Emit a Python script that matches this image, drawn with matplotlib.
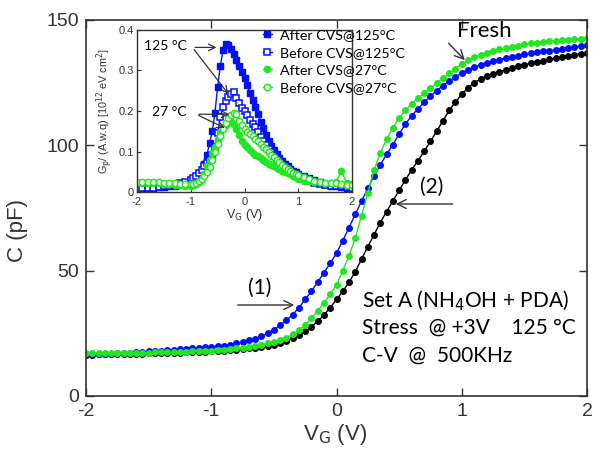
import numpy as np
import matplotlib
matplotlib.use("Agg")
import matplotlib.pyplot as plt

plt.rcParams['axes.unicode_minus'] = False
plt.rcParams['font.family'] = ['Liberation Sans', 'DejaVu Sans']

# ---- main C-V sweep (V) ----
vg = np.linspace(-2.0, 2.0, 81)

c_after_125 = [16.5, 16.6, 16.7, 16.8, 16.9, 17.0, 17.1, 17.3, 17.4, 17.6,
               17.8, 17.9, 18.0, 18.2, 18.4, 18.6, 18.8, 19.0, 19.2, 19.4,
               19.6, 19.8, 20.1, 20.5, 21.0, 21.6, 22.2, 22.9, 23.8, 25.0,
               26.5, 28.2, 30.2, 32.5, 35.2, 38.5, 41.8, 45.5, 49.2, 53.0,
               57.0, 62.0, 67.2, 72.5, 77.8, 82.8, 87.8, 92.2, 96.4, 100.3,
               104.5, 108.5, 111.8, 114.6, 117.2, 119.6, 121.8, 123.8, 125.6, 127.3,
               128.9, 130.2, 131.2, 132.1, 132.9, 133.6, 134.2, 134.8, 135.3, 135.8,
               136.3, 136.7, 137.1, 137.5, 137.8, 138.2, 138.5, 138.9, 139.2, 139.6,
               140.0]

c_fresh_green = [17.0, 17.0, 17.0, 17.1, 17.1, 17.1, 17.2, 17.2, 17.2, 17.3,
                 17.3, 17.4, 17.4, 17.5, 17.5, 17.6, 17.7, 17.8, 17.9, 18.0,
                 18.1, 18.3, 18.5, 18.7, 19.0, 19.3, 19.7, 20.1, 20.5, 21.0,
                 21.6, 22.3, 23.3, 24.6, 26.3, 28.3, 31.0, 34.0, 37.2, 40.6,
                 44.3, 50.0, 56.0, 63.0, 72.0, 81.0, 90.0, 97.0, 102.5, 107.0,
                 111.0, 114.0, 116.6, 118.8, 120.8, 122.8, 124.8, 126.8, 128.7, 130.6,
                 132.4, 134.0, 135.2, 136.2, 137.0, 137.7, 138.3, 138.8, 139.3, 139.8,
                 140.3, 140.7, 141.0, 141.3, 141.6, 141.8, 142.0, 142.2, 142.4, 142.6,
                 142.7]

c_black = [16.5, 16.5, 16.6, 16.6, 16.7, 16.7, 16.8, 16.8, 16.9, 16.9,
           17.0, 17.0, 17.1, 17.1, 17.2, 17.3, 17.4, 17.5, 17.6, 17.7,
           17.8, 17.9, 18.1, 18.3, 18.5, 18.7, 19.0, 19.3, 19.6, 20.0,
           20.5, 21.2, 22.0, 23.0, 24.3, 25.8, 27.6, 29.8, 32.3, 35.3,
           38.5, 41.8, 45.4, 49.6, 54.6, 59.6, 64.4, 69.2, 73.6, 77.8,
           82.0, 86.2, 90.2, 93.8, 97.6, 101.6, 105.6, 109.8, 114.0, 117.3,
           120.3, 123.0, 125.0, 126.5, 127.7, 128.6, 129.4, 130.1, 130.8, 131.5,
           132.1, 132.7, 133.3, 133.8, 134.3, 134.8, 135.3, 135.7, 136.1, 136.5,
           136.8]

# ---- inset Gp sweep ----
vg_in = [-2.0, -1.9, -1.8, -1.7, -1.6, -1.5, -1.4, -1.3, -1.2, -1.1, -1.0,
         -0.95, -0.9, -0.85, -0.8, -0.75, -0.7, -0.65, -0.6, -0.55, -0.5,
         -0.45, -0.4, -0.35, -0.3, -0.25, -0.2, -0.15, -0.1, -0.05, 0.0,
         0.05, 0.1, 0.15, 0.2, 0.25, 0.3, 0.35, 0.4, 0.45, 0.5,
         0.55, 0.6, 0.65, 0.7, 0.75, 0.8, 0.85, 0.9, 0.95, 1.0,
         1.1, 1.2, 1.3, 1.4, 1.5, 1.6, 1.7, 1.8, 1.9, 2.0]

gp_after_125 = [0.008, 0.009, 0.010, 0.011, 0.012, 0.013, 0.014, 0.016, 0.019, 0.022, 0.027,
                0.031, 0.037, 0.045, 0.055, 0.070, 0.092, 0.120, 0.150, 0.195, 0.260,
                0.310, 0.350, 0.366, 0.364, 0.354, 0.340, 0.326, 0.310, 0.296, 0.282,
                0.264, 0.245, 0.226, 0.210, 0.192, 0.174, 0.157, 0.140, 0.126, 0.114,
                0.104, 0.094, 0.084, 0.076, 0.069, 0.063, 0.058, 0.053, 0.049, 0.045,
                0.039, 0.034, 0.029, 0.024, 0.020, 0.016, 0.014, 0.012, 0.011, 0.010]

gp_before_125 = [0.008, 0.009, 0.010, 0.011, 0.013, 0.014, 0.016, 0.018, 0.021, 0.025, 0.030,
                 0.034, 0.040, 0.046, 0.054, 0.063, 0.072, 0.080, 0.092, 0.110, 0.145,
                 0.185, 0.210, 0.225, 0.234, 0.242, 0.246, 0.232, 0.220, 0.208, 0.199,
                 0.190, 0.178, 0.168, 0.160, 0.149, 0.137, 0.127, 0.116, 0.106, 0.098,
                 0.090, 0.082, 0.075, 0.068, 0.061, 0.056, 0.051, 0.046, 0.041, 0.037,
                 0.031, 0.026, 0.023, 0.020, 0.018, 0.016, 0.015, 0.014, 0.012, 0.011]

gp_after_27 = [0.022, 0.022, 0.022, 0.022, 0.021, 0.020, 0.019, 0.018, 0.017, 0.016, 0.016,
               0.017, 0.020, 0.025, 0.033, 0.045, 0.065, 0.080, 0.096, 0.110, 0.130,
               0.148, 0.160, 0.166, 0.170, 0.172, 0.168, 0.155, 0.140, 0.125, 0.116,
               0.110, 0.103, 0.097, 0.092, 0.088, 0.083, 0.078, 0.074, 0.070, 0.067,
               0.064, 0.060, 0.057, 0.053, 0.050, 0.047, 0.044, 0.040, 0.036, 0.032,
               0.028, 0.026, 0.025, 0.024, 0.023, 0.023, 0.024, 0.052, 0.022, 0.020]

gp_before_27 = [0.025, 0.025, 0.025, 0.024, 0.024, 0.023, 0.022, 0.021, 0.020, 0.019, 0.019,
                0.020, 0.022, 0.026, 0.032, 0.040, 0.050, 0.062, 0.078, 0.098, 0.118,
                0.138, 0.155, 0.170, 0.182, 0.190, 0.195, 0.192, 0.176, 0.165, 0.155,
                0.147, 0.142, 0.138, 0.131, 0.126, 0.119, 0.112, 0.105, 0.098, 0.092,
                0.086, 0.079, 0.073, 0.067, 0.061, 0.056, 0.052, 0.048, 0.045, 0.042,
                0.036, 0.032, 0.028, 0.024, 0.022, 0.021, 0.021, 0.020, 0.018, 0.017]

legend_labels = ['After CVS@125°C', 'Before CVS@125°C', 'After CVS@27°C', 'Before CVS@27°C']

BLUE = '#0010ff'
GREEN = '#22e622'
TXT = ['Lato', 'DejaVu Sans']

fig = plt.figure(figsize=(5.95, 4.49), dpi=100)
ax = fig.add_axes([86 / 595, 53 / 449, 501 / 595, 376 / 449])

ax.plot(vg, c_black, '-o', color='black', ms=4, lw=1)
ax.plot(vg, c_after_125, '-o', color=BLUE, ms=4, lw=1)
ax.plot(vg, c_fresh_green, '-o', color=GREEN, ms=4, lw=1)

ax.set_xlim(-2, 2)
ax.set_ylim(0, 150)
ax.set_xticks([-2, -1, 0, 1, 2])
ax.set_yticks([0, 50, 100, 150])
ax.tick_params(direction='in', top=True, right=True, length=6, width=1,
               labelsize=14, pad=5, colors='#333333')
for s in ax.spines.values():
    s.set_color('#333333')
    s.set_linewidth(1.2)
ax.set_ylabel('C (pF)', fontsize=16, color='#333333')
ax.yaxis.set_label_coords(-0.115, 0.44)
ax.set_xlabel(r'V$_\mathrm{G}$ (V)', fontsize=16, color='#333333')
ax.xaxis.set_label_coords(0.497, -0.07)

arrow = dict(arrowstyle='->', color='#333333', lw=1, mutation_scale=16)
ax.annotate('', xy=(-0.315, 36.3), xytext=(-0.81, 36.3), arrowprops=arrow)
ax.text(-0.61, 43, '(1)', fontsize=15, ha='center', va='center', family=TXT)
ax.annotate('', xy=(0.451, 76.6), xytext=(0.95, 76.6), arrowprops=arrow)
ax.text(0.76, 83.4, '(2)', fontsize=15, ha='center', va='center', family=TXT)
ax.annotate('', xy=(1.04, 133.2), xytext=(0.88, 141.5), arrowprops=arrow)
ax.text(1.18, 145.6, 'Fresh', fontsize=16, ha='center', va='center', family=TXT)

ax.text(0.204, 35.5, 'Set A (NH$_4$OH + PDA)', fontsize=15, va='baseline', family=TXT)
ax.text(0.204, 24.7, 'Stress  @ +3V    125 °C', fontsize=15, va='baseline', family=TXT)
ax.text(0.204, 13.6, 'C-V  @  500KHz', fontsize=15, va='baseline', family=TXT)

# ---- inset ----
ins = fig.add_axes([137 / 595, (449 - 192) / 449, 215 / 595, 162 / 449])
h1, = ins.plot(vg_in, gp_after_125, '-s', color=BLUE, ms=4.5, lw=1)
h2, = ins.plot(vg_in, gp_before_125, '-s', color=BLUE, mfc='white', ms=4.5, mew=1.1, lw=1)
h3, = ins.plot(vg_in, gp_after_27, '-o', color=GREEN, ms=4.5, lw=1)
h4, = ins.plot(vg_in, gp_before_27, '-o', color=GREEN, mfc='white', ms=4.5, mew=1.1, lw=1)
ins.set_xlim(-2, 2)
ins.set_ylim(0, 0.4)
ins.set_xticks([-2, -1, 0, 1, 2])
ins.set_yticks([0, 0.1, 0.2, 0.3, 0.4])
ins.set_yticklabels(['0', '0.1', '0.2', '0.3', '0.4'])
ins.tick_params(direction='in', length=3, labelsize=8, pad=2, colors='#333333')
ins.tick_params(axis='x', pad=3.5)
for s in ins.spines.values():
    s.set_color('#333333')
    s.set_linewidth(1.0)
ins.set_xlabel(r'V$_\mathrm{G}$ (V)', fontsize=9, color='#333333', labelpad=0)
ins.set_ylabel(r'G$_\mathrm{p}$/ (A.w.q) [10$^{12}$ eV cm$^2$]', fontsize=7.8,
               color='#333333', labelpad=3)

ins.legend([h1, h2, h3, h4], legend_labels, loc='upper left', bbox_to_anchor=(0.56, 1.04),
           frameon=False, prop={'family': TXT, 'size': 10.3}, handlelength=0.6,
           handletextpad=0.6, labelspacing=0.38, borderaxespad=0)

iarrow = dict(arrowstyle='->', color='#333333', lw=0.9, mutation_scale=12)
ins.text(-1.48, 0.36, '125 °C', fontsize=10, ha='center', va='center', family=TXT)
ins.annotate('', xy=(-0.47, 0.357), xytext=(-0.97, 0.357), arrowprops=iarrow)
ins.annotate('', xy=(-0.27, 0.237), xytext=(-0.97, 0.357), arrowprops=iarrow)
ins.text(-1.39, 0.197, '27 °C', fontsize=10, ha='center', va='center', family=TXT)
ins.annotate('', xy=(-0.23, 0.192), xytext=(-0.9, 0.192), arrowprops=iarrow)
ins.annotate('', xy=(-0.32, 0.155), xytext=(-0.9, 0.192), arrowprops=iarrow)

fig.savefig('out.png', dpi=100)
